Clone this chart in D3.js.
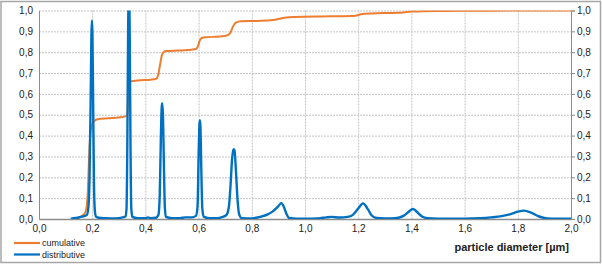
<!DOCTYPE html>
<head>
    <meta charset="utf-8">
    <title>particle size distribution</title>
    <style>
        body { margin: 0; background: #fff; }
        text { font-family: "Liberation Sans", Arial, sans-serif; fill: #222; }
    </style>
</head>

<script src="https://d3js.org/d3.v7.min.js"></script>

<div id="my_dataviz"></div>

<script>

    // ticks
    var xTicks = [0, 0.2, 0.4, 0.6, 0.8, 1.0, 1.2, 1.4, 1.6, 1.8, 2.0];
    var yTicks = [0, 0.1, 0.2, 0.3, 0.4, 0.5, 0.6, 0.7, 0.8, 0.9, 1.0];
    var seriesNames = ["cumulative", "distributive"];
    var seriesColors = ["#ED7D31", "#0070C0"];

    // cumulative curve [diameter, fraction]
    var cumulative = [
        [0.14, 0.0], [0.15, 0.006], [0.162, 0.016], [0.172, 0.028], [0.178, 0.05],
        [0.183, 0.12], [0.187, 0.25], [0.19, 0.35], [0.194, 0.42], [0.2, 0.455],
        [0.21, 0.472], [0.22, 0.478], [0.26, 0.483], [0.3, 0.487], [0.325, 0.492],
        [0.332, 0.5], [0.335, 0.58], [0.338, 0.65], [0.342, 0.66], [0.38, 0.665],
        [0.42, 0.668], [0.44, 0.672], [0.448, 0.69], [0.455, 0.74], [0.462, 0.785],
        [0.47, 0.803], [0.48, 0.806], [0.52, 0.808], [0.56, 0.81], [0.59, 0.815],
        [0.598, 0.83], [0.604, 0.855], [0.612, 0.868], [0.625, 0.872], [0.68, 0.875],
        [0.71, 0.882], [0.72, 0.895], [0.73, 0.925], [0.74, 0.942], [0.76, 0.948],
        [0.82, 0.95], [0.88, 0.954], [0.91, 0.962], [0.93, 0.967], [0.96, 0.969],
        [1.1, 0.972], [1.19, 0.975], [1.21, 0.982], [1.25, 0.986], [1.35, 0.989],
        [1.4, 0.995], [1.5, 0.998], [1.7, 0.999], [1.83, 1.0], [2.0, 1.0]
    ];

    // distributive curve [diameter, density]
    var distributive = [
        [0.12, 0.0], [0.13, 0.004], [0.145, 0.006], [0.16, 0.011], [0.17, 0.014],
        [0.18, 0.02], [0.186, 0.06], [0.19, 0.2], [0.194, 0.55], [0.197, 0.88],
        [0.199, 0.952], [0.201, 0.88], [0.204, 0.5], [0.207, 0.15], [0.21, 0.04],
        [0.214, 0.012], [0.225, 0.006], [0.25, 0.004], [0.28, 0.003], [0.3, 0.004],
        [0.315, 0.008], [0.325, 0.012], [0.329, 0.05], [0.332, 0.35], [0.335, 0.9],
        [0.338, 1.1], [0.341, 0.9], [0.344, 0.35], [0.347, 0.05], [0.351, 0.01],
        [0.37, 0.004], [0.4, 0.004], [0.41, 0.008], [0.42, 0.004], [0.44, 0.006],
        [0.449, 0.02], [0.454, 0.12], [0.458, 0.38], [0.461, 0.53], [0.463, 0.555],
        [0.466, 0.5], [0.469, 0.3], [0.473, 0.06], [0.477, 0.01], [0.5, 0.004],
        [0.53, 0.004], [0.55, 0.008], [0.575, 0.008], [0.59, 0.015], [0.596, 0.06],
        [0.6, 0.3], [0.603, 0.45], [0.605, 0.474], [0.607, 0.44], [0.61, 0.25],
        [0.614, 0.05], [0.62, 0.01], [0.64, 0.004], [0.67, 0.004], [0.69, 0.01],
        [0.705, 0.02], [0.714, 0.06], [0.72, 0.16], [0.726, 0.29], [0.731, 0.335],
        [0.735, 0.33], [0.74, 0.24], [0.746, 0.1], [0.752, 0.025], [0.762, 0.004],
        [0.8, 0.003], [0.83, 0.01], [0.86, 0.022], [0.88, 0.038], [0.9, 0.062],
        [0.911, 0.076], [0.92, 0.06], [0.93, 0.025], [0.94, 0.005], [0.97, 0.002],
        [1.0, 0.002], [1.05, 0.003], [1.08, 0.008], [1.1, 0.01], [1.13, 0.007],
        [1.16, 0.01], [1.18, 0.02], [1.2, 0.05], [1.218, 0.075], [1.235, 0.05],
        [1.25, 0.018], [1.27, 0.005], [1.3, 0.003], [1.34, 0.004], [1.37, 0.015],
        [1.39, 0.035], [1.406, 0.048], [1.42, 0.035], [1.44, 0.012], [1.46, 0.004],
        [1.5, 0.002], [1.6, 0.002], [1.66, 0.004], [1.7, 0.008], [1.74, 0.014],
        [1.77, 0.022], [1.8, 0.035], [1.824, 0.04], [1.85, 0.03], [1.88, 0.012],
        [1.91, 0.003], [1.95, 0.001], [2.0, 0.001]
    ];

    var fullWidth = 602, fullHeight = 264;
    var margin = {top: 10.5, right: 31, bottom: 45, left: 39},
        width = fullWidth - margin.left - margin.right,
        height = fullHeight - margin.top - margin.bottom;

    var root = d3.select("#my_dataviz")
      .append("svg")
      .attr("width", fullWidth)
      .attr("height", fullHeight);

    // outer frame
    root.append("rect")
        .attr("x", 1).attr("y", 1.5)
        .attr("width", fullWidth - 2.5).attr("height", fullHeight - 3)
        .style("fill", "none")
        .style("stroke", "#a6a6a6")
        .style("stroke-width", 1.5);

    var svg = root.append("g")
      .attr("transform", "translate(" + margin.left + "," + margin.top + ")");

    svg.append("clipPath").attr("id", "plotclip")
      .append("rect").attr("x", 0).attr("y", 0).attr("width", width).attr("height", height);

    var x = d3.scaleLinear().domain([0, 2]).range([0, width]);
    var y = d3.scaleLinear().domain([0, 1]).range([height, 0]);
    var fmt = function(d) { return d3.format(".1f")(d).replace(".", ","); };

    // grid
    svg.append("g")
      .call(d3.axisBottom(x).tickValues(xTicks).tickSize(height).tickFormat(""))
      .call(function(g) { g.select(".domain").remove(); })
      .selectAll(".tick line")
        .attr("stroke", "#c4c4c4")
        .attr("stroke-dasharray", "2,1");

    svg.append("g")
      .call(d3.axisLeft(y).tickValues(yTicks).tickSize(-width).tickFormat(""))
      .call(function(g) { g.select(".domain").remove(); })
      .selectAll(".tick line")
        .attr("stroke", "#c4c4c4")
        .attr("stroke-dasharray", "2,1");

    // axis labels
    var xAxis = svg.append("g")
      .attr("transform", "translate(0," + height + ")")
      .call(d3.axisBottom(x).tickValues(xTicks).tickSize(0).tickPadding(6).tickFormat(fmt));
    xAxis.select(".domain").attr("stroke", "#8c8c8c").attr("stroke-width", 1.5);

    var yLeft = svg.append("g")
      .call(d3.axisLeft(y).tickValues(yTicks).tickSize(0).tickPadding(6).tickFormat(fmt));
    yLeft.select(".domain").attr("stroke", "#8c8c8c");

    var yRight = svg.append("g")
      .attr("transform", "translate(" + width + ",0)")
      .call(d3.axisRight(y).tickValues(yTicks).tickSize(4).tickPadding(2).tickFormat(fmt));
    yRight.select(".domain").attr("stroke", "#8c8c8c");
    yRight.selectAll(".tick line").attr("stroke", "#8c8c8c");

    root.selectAll(".tick text")
      .style("font-size", "10px")
      .style("font-family", "'Liberation Sans', Arial, sans-serif")
      .attr("fill", "#222");

    // x title
    svg.append("text")
      .attr("text-anchor", "end")
      .attr("x", width - 2)
      .attr("y", height + 32)
      .style("font-size", "11px")
      .style("font-weight", "bold")
      .text("particle diameter [\u00b5m]");

    // curves
    var line = d3.line()
      .x(function(d) { return x(d[0]); })
      .y(function(d) { return y(d[1]); })
      .curve(d3.curveMonotoneX);

    var plot = svg.append("g").attr("clip-path", "url(#plotclip)");

    plot.append("path")
      .datum(cumulative)
      .attr("d", line)
      .style("fill", "none")
      .style("stroke", seriesColors[0])
      .style("stroke-width", 2);

    plot.append("path")
      .datum(distributive)
      .attr("d", line)
      .style("fill", "none")
      .style("stroke", seriesColors[1])
      .style("stroke-width", 2.4)
      .style("stroke-linejoin", "round");

    // legend
    var legend = root.append("g")
      .selectAll("g")
      .data(seriesNames)
      .enter()
      .append("g")
        .attr("transform", function(d, i) { return "translate(14," + (243 + i * 11.5) + ")"; });

    legend.append("line")
      .attr("x1", 0).attr("x2", 26)
      .attr("stroke", function(d, i) { return seriesColors[i]; })
      .attr("stroke-width", 2.2);

    legend.append("text")
      .attr("x", 28)
      .attr("dy", "0.34em")
      .style("font-size", "9px")
      .text(function(d) { return d; });

</script>
